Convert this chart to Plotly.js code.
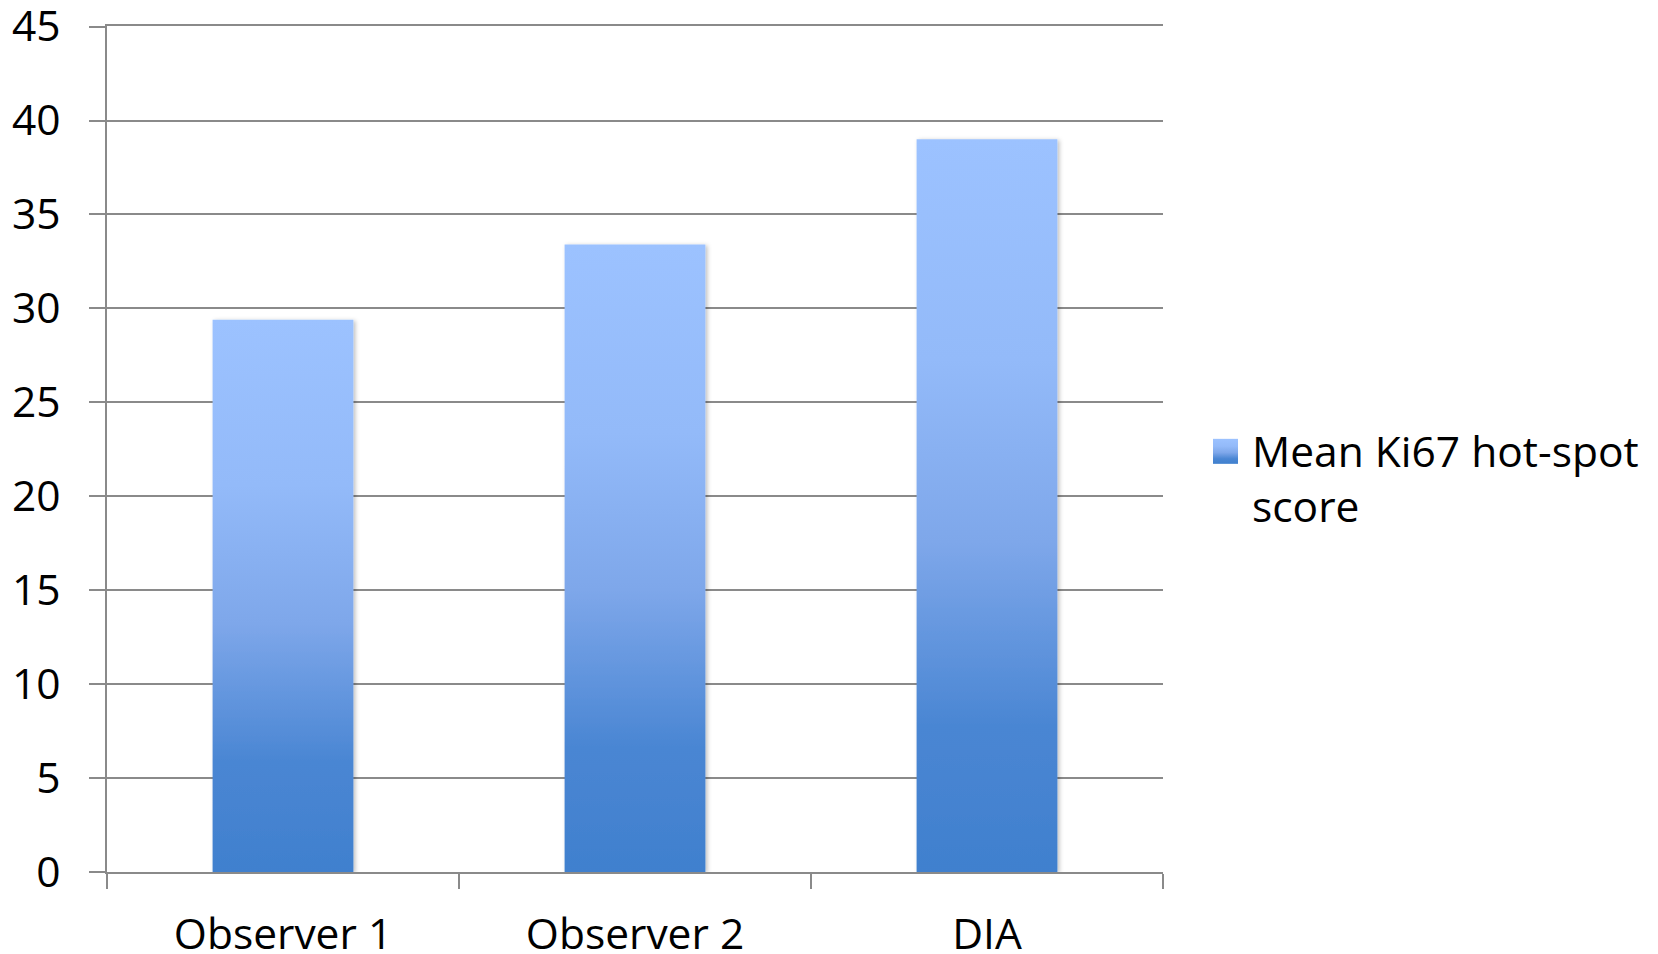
<!DOCTYPE html>
<html>
<head>
<meta charset="utf-8">
<script src="https://cdn.plot.ly/plotly-3.0.1.min.js"></script>
<style>
html,body{margin:0;padding:0;background:#fff;}
#chart{width:1658px;height:954px;}
</style>
</head>
<body>
<div id="chart"></div>
<script>
var categories = ["Observer 1", "Observer 2", "DIA"];
var meanKi67 = [29.4, 33.4, 39.0];
var seriesName = "Mean Ki67 hot-spot<br>score";
var yTicks = [0, 5, 10, 15, 20, 25, 30, 35, 40, 45];

var FONT = "Open Sans, Liberation Sans, sans-serif";
var GRID = "#8a8a8a";
var FS = 42.5;

var trace = {
  type: "bar",
  x: categories,
  y: meanKi67,
  name: seriesName,
  marker: { color: "#6d9be0", line: { width: 0 } },
  showlegend: true,
  hoverinfo: "x+y"
};

var layout = {
  width: 1658,
  height: 954,
  paper_bgcolor: "#ffffff",
  plot_bgcolor: "#ffffff",
  margin: { l: 107, r: 495, t: 26, b: 82, pad: 0 },
  bargap: 0.6,
  font: { family: FONT, size: FS, color: "#000000" },
  showlegend: true,
  legend: {
    xref: "container", yref: "container",
    x: 1199 / 1658, xanchor: "left",
    y: 1 - 416 / 954, yanchor: "top",
    valign: "top",
    itemwidth: 43,
    font: { family: FONT, size: FS, color: "#000" },
    bgcolor: "rgba(0,0,0,0)",
    borderwidth: 0,
    tracegroupgap: 0
  },
  xaxis: {
    type: "category",
    showgrid: false,
    showline: true,
    mirror: true,
    linecolor: GRID,
    linewidth: 2,
    ticks: "outside",
    tickson: "boundaries",
    ticklen: 15,
    tickwidth: 2,
    tickcolor: GRID,
    ticklabelstandoff: 24,
    ticklabeloverflow: "allow",
    tickfont: { family: FONT, size: FS, color: "#000" },
    zeroline: false,
    fixedrange: true
  },
  yaxis: {
    range: [0, 45.03],
    tickvals: yTicks,
    ticktext: yTicks.map(String),
    showgrid: true,
    gridcolor: GRID,
    gridwidth: 2,
    showline: true,
    linecolor: GRID,
    linewidth: 2,
    ticks: "outside",
    ticklen: 16,
    tickwidth: 2,
    tickcolor: GRID,
    ticklabelstandoff: 20,
    ticklabeloverflow: "allow",
    tickfont: { family: FONT, size: FS, color: "#000" },
    zeroline: false,
    fixedrange: true
  }
};

Plotly.newPlot("chart", [trace], layout, { displayModeBar: false, staticPlot: true }).then(function (gd) {
  var svg = gd.querySelector("svg.main-svg");
  var NS = "http://www.w3.org/2000/svg";
  var defs = svg.querySelector("defs") || svg.insertBefore(document.createElementNS(NS, "defs"), svg.firstChild);
  var grad = document.createElementNS(NS, "linearGradient");
  grad.setAttribute("id", "barGrad");
  grad.setAttribute("x1", "0"); grad.setAttribute("y1", "0");
  grad.setAttribute("x2", "0"); grad.setAttribute("y2", "1");
  [["0%", "#9cc2ff"], ["30%", "#93baf9"], ["55%", "#7ea7ea"], ["80%", "#4a86d3"], ["100%", "#4080ce"]].forEach(function (s) {
    var st = document.createElementNS(NS, "stop");
    st.setAttribute("offset", s[0]);
    st.setAttribute("stop-color", s[1]);
    grad.appendChild(st);
  });
  defs.appendChild(grad);
  var filt = document.createElementNS(NS, "filter");
  filt.setAttribute("id", "barShadow");
  filt.setAttribute("x", "-10%"); filt.setAttribute("y", "-10%");
  filt.setAttribute("width", "120%"); filt.setAttribute("height", "120%");
  var ds = document.createElementNS(NS, "feDropShadow");
  ds.setAttribute("dx", "2"); ds.setAttribute("dy", "1");
  ds.setAttribute("stdDeviation", "2");
  ds.setAttribute("flood-color", "#000"); ds.setAttribute("flood-opacity", "0.25");
  filt.appendChild(ds);
  defs.appendChild(filt);
  gd.querySelectorAll(".barlayer .point path").forEach(function (p) {
    p.style.fill = "url(#barGrad)";
    p.setAttribute("filter", "url(#barShadow)");
  });
  var legText = gd.querySelector(".legend text.legendtext");
  var firstLine = legText ? (legText.querySelector("tspan.line") || legText) : null;
  gd.querySelectorAll(".legend .legendpoints path").forEach(function (p) {
    p.style.fill = "url(#barGrad)";
    p.style.stroke = "none";
    p.removeAttribute("transform");
    p.setAttribute("d", "M12.5,12.5H-12.5V-12.5H12.5Z");
    if (firstLine) {
      var r = p.getBoundingClientRect();
      var t = firstLine.getBoundingClientRect();
      var tb = legText.getBoundingClientRect();
      var cx = tb.left - 14 - 12.5;
      var cy = t.top + t.height * 0.52;
      var dx = cx - (r.left + r.width / 2);
      var dy = cy - (r.top + r.height / 2);
      p.setAttribute("transform", "translate(" + dx + "," + dy + ")");
    }
  });
});
</script>
</body>
</html>
